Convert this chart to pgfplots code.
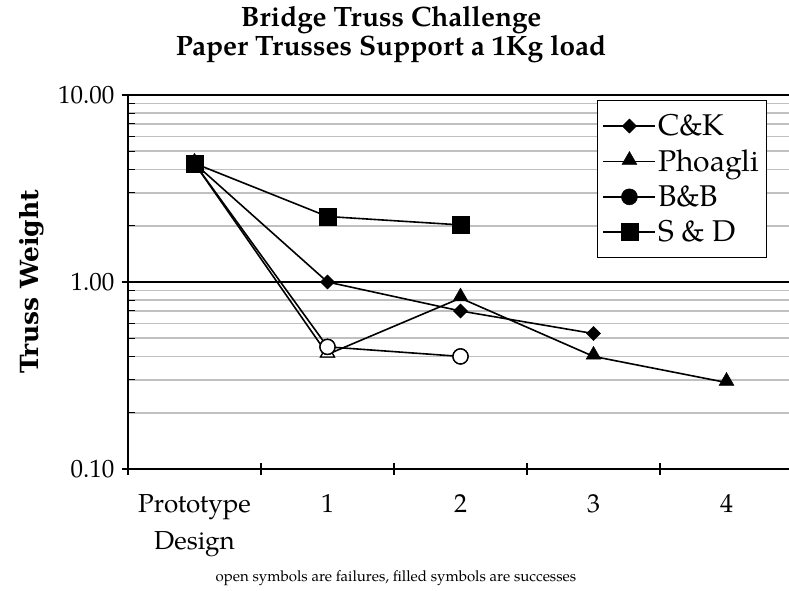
\documentclass[border=0pt]{standalone}
\usepackage{pgfplots}
\pgfplotsset{compat=1.18}
\usepackage{fontspec}
\setmainfont{TeX Gyre Pagella}
\newfontfamily\ylabfont{DejaVu Serif}
\definecolor{gridgray}{HTML}{C0C0C0}
\begin{document}
\begin{tikzpicture}
\useasboundingbox (-128pt,-121pt) rectangle (661pt,469pt);
\begin{axis}[
  at={(0pt,0pt)}, anchor=south west,
  scale only axis, width=661pt, height=374pt,
  ymode=log, ymin=0.1, ymax=10,
  xmin=-0.5, xmax=4.47,
  axis x line=bottom, axis y line=left,
  axis line style={line width=1.5pt, black, -},
  /pgf/number format/assume math mode=true,
  ytick={0.1,1,10}, yticklabels={0.10,1.00,10.00},
  yticklabel style={font=\fontsize{25}{30}\selectfont, xshift=-4pt},
  ymajorgrids, yminorgrids,
  major grid style={black, line width=1.5pt},
  minor grid style={gridgray, line width=1.8pt},
  tick align=center,
  major tick length=12pt,
  minor tick length=7pt,
  every minor tick/.append style={xshift=3.5pt, line width=1pt, black},
  every major tick/.append style={line width=1.3pt, black},
  xtick={-0.5,0.5,1.5,2.5,3.5}, xticklabels={},
  extra x ticks={0,1,2,3,4},
  extra x tick labels={Prototype\\Design,1,2,3,4},
  extra x tick style={major tick length=0pt, xmajorgrids=false,
    xticklabel style={font=\fontsize{26}{37}\selectfont, align=center, anchor=north, yshift=-22pt}},
  ylabel={\ylabfont\bfseries Truss Weight},
  every axis y label/.style={at={(axis description cs:-0.145,0.5)}, rotate=90, anchor=center, font=\fontsize{25}{28}\selectfont},
  title={Bridge Truss Challenge\\Paper Trusses Support a 1Kg load},
  title style={at={(axis description cs:0.398,1.145)}, anchor=center, align=center, font=\bfseries\fontsize{28}{29}\selectfont},
  legend style={at={(axis description cs:0.7095,0.9866)}, anchor=north west,
    draw=black, line width=1.3pt, fill=white, font=\fontsize{30}{32}\selectfont,
    row sep=8.5pt, inner xsep=5pt, inner ysep=12pt},
  legend cell align=left,
  legend image code/.code={\draw[mark repeat=2, mark phase=2] plot coordinates {(0pt,0pt) (26pt,0pt) (52pt,0pt)};},
]
% C&K
\addplot[black, line width=1.6pt, mark=square*, mark size=5pt, mark options={rotate=45, fill=black, line width=0.5pt}]
  coordinates {(0,4.31) (1,1.0) (2,0.70) (3,0.53)};
\addlegendentry{C\&K}
% Phoagli
\addplot[black, line width=1.6pt, mark=triangle*, mark size=8.5pt, mark options={fill=black, line width=0.5pt, yshift=1.5pt}]
  coordinates {(0,4.31) (1,0.41) (2,0.82) (3,0.40) (4,0.29)};
\addlegendentry{Phoagli}
\addplot[forget plot, only marks, mark=triangle*, mark size=8pt, mark options={fill=white, draw=black, line width=1.3pt, yshift=1.5pt}]
  coordinates {(1,0.41)};
% B&B
\addplot[black, line width=1.6pt, mark=*, mark size=8pt, mark options={fill=black, line width=0.5pt}]
  coordinates {(0,4.31) (1,0.45) (2,0.40)};
\addlegendentry{B\&B}
\addplot[forget plot, only marks, mark=*, mark size=7.5pt, mark options={fill=white, draw=black, line width=1.3pt}]
  coordinates {(1,0.45) (2,0.40)};
% S & D
\addplot[black, line width=1.6pt, mark=square*, mark size=8.5pt, mark options={fill=black, line width=0.5pt}]
  coordinates {(0,4.31) (1,2.24) (2,2.02)};
\addlegendentry{S \& D}
\end{axis}
\node[font=\fontsize{15}{18}\selectfont, anchor=center] at (268pt,-109pt)
  {open symbols are failures, filled symbols are successes};
\end{tikzpicture}
\end{document}
